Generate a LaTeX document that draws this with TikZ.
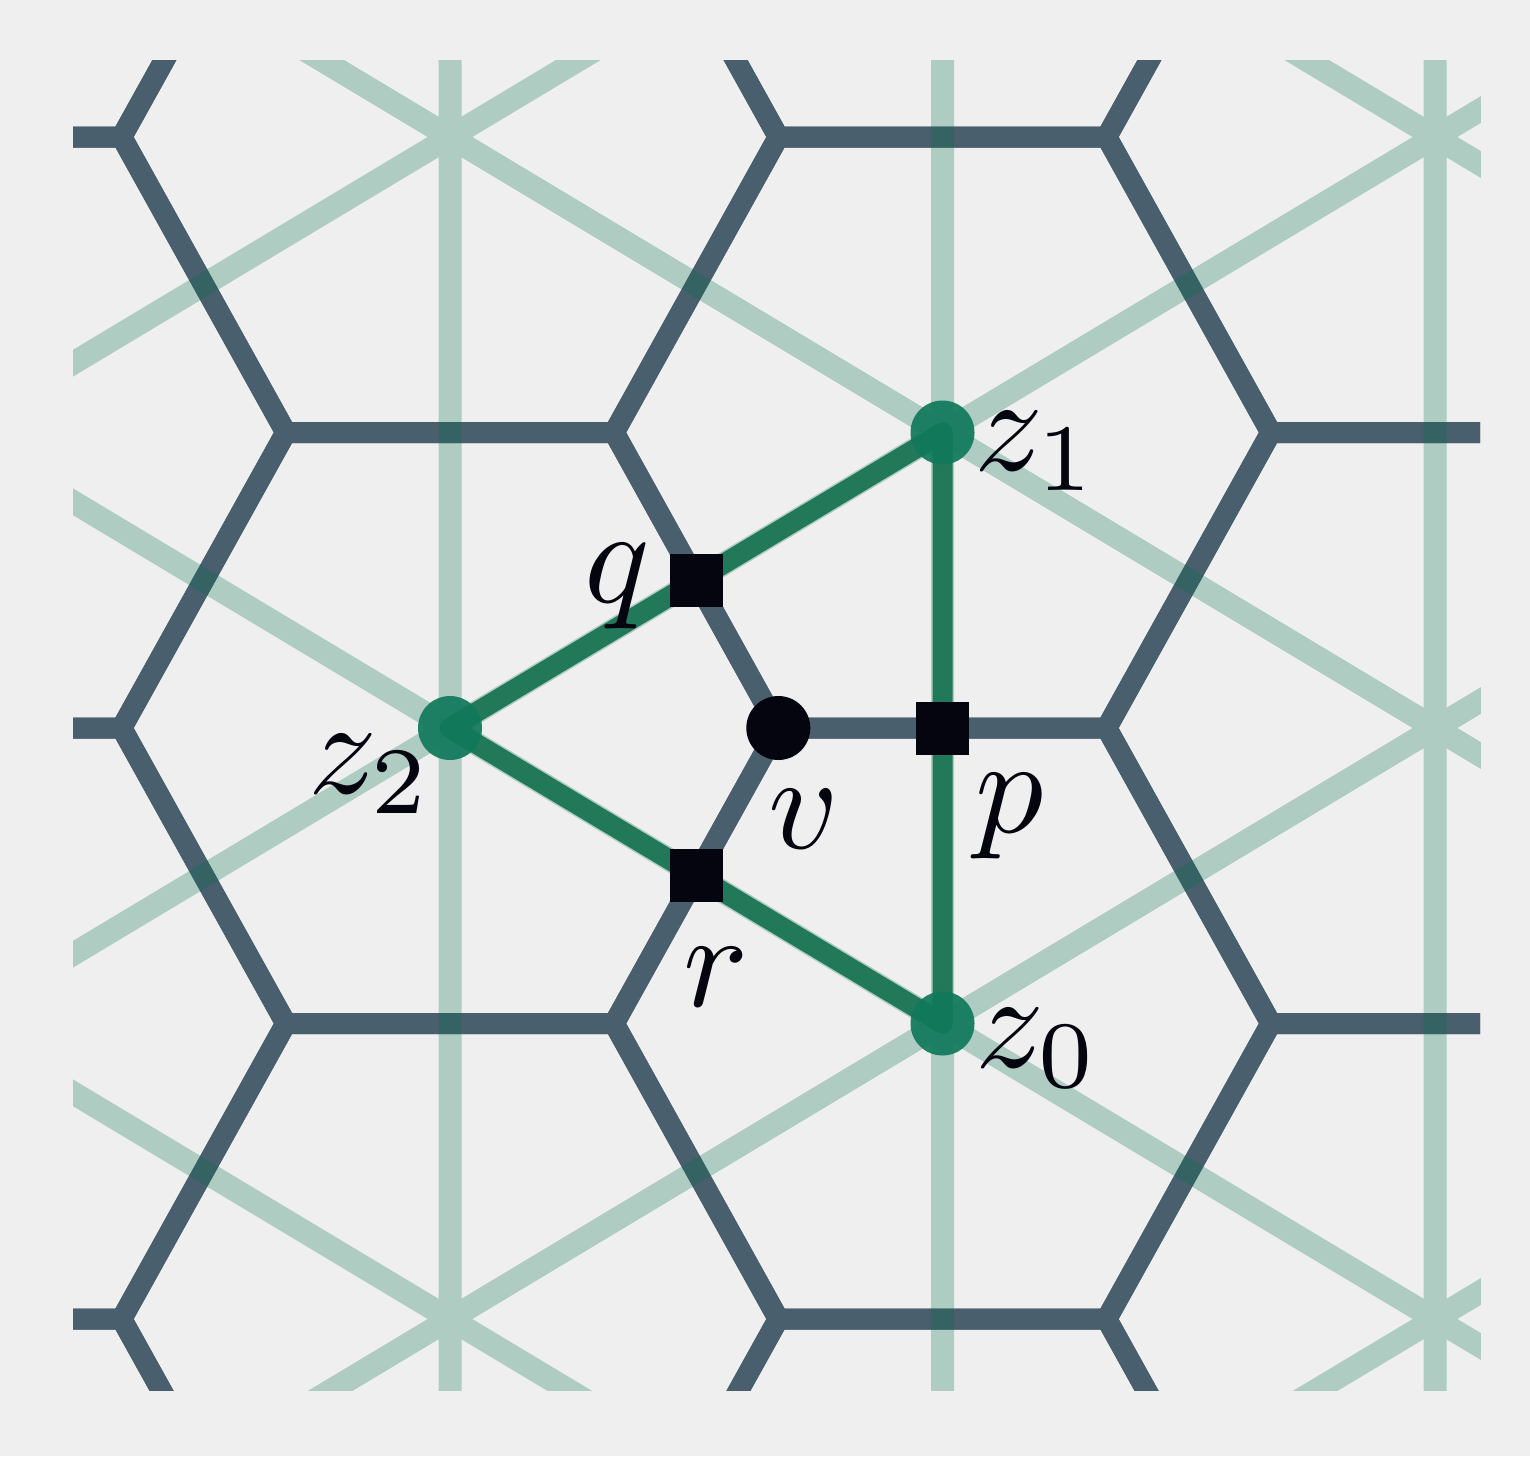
\documentclass[tikz,border=0pt]{standalone}
\definecolor{bgcol}{HTML}{EFEFEF}
\definecolor{hexcol}{HTML}{4A5F6E}
\definecolor{lattcol}{RGB}{0,110,75}
\definecolor{tricol}{HTML}{1A7555}
\definecolor{zcol}{HTML}{10785A}
\definecolor{ink}{HTML}{05050F}
\newcommand{\biglab}[1]{\scalebox{13.6}{$#1$}}
\begin{document}
\begin{tikzpicture}[x=1pt,y=-1pt,
  hexedge/.style={draw=hexcol, line width=21pt, line join=miter},
  lattline/.style={draw=lattcol, line width=23pt},
  triedge/.style={draw=tricol, line width=20pt, line join=round, draw opacity=0.95},
  zdot/.style={circle, fill=zcol, fill opacity=0.92, minimum size=64pt, inner sep=0pt},
  vdot/.style={circle, fill=ink, minimum size=64pt, inner sep=0pt},
  sqdot/.style={rectangle, fill=ink, minimum size=53pt, inner sep=0pt},
  lab/.style={anchor=base west, inner sep=0pt, text=ink, font=\fontsize{10}{12}\selectfont}]
\fill[bgcol] (0,0) rectangle (1530,1456);
\useasboundingbox (0,0) rectangle (1530,1456);
\def\A{328.33}
\def\H{295.5}
\begin{scope}
\clip (73,60) rectangle (1480,1390);
% honeycomb
\foreach \cx in {450,1435} {
  \foreach \k [evaluate=\k as \cy using 728+\H*\k] in {-4,-2,0,2,4} {
    \draw[hexedge] ({\cx+\A},{\cy}) -- ({\cx+\A/2},{\cy+\H}) -- ({\cx-\A/2},{\cy+\H})
      -- ({\cx-\A},{\cy}) -- ({\cx-\A/2},{\cy-\H}) -- ({\cx+\A/2},{\cy-\H}) -- cycle;
  }
}
\foreach \cx in {-42.5,942.5,1927.5} {
  \foreach \k [evaluate=\k as \cy using 728+\H*\k] in {-3,-1,1,3,5} {
    \draw[hexedge] ({\cx+\A},{\cy}) -- ({\cx+\A/2},{\cy+\H}) -- ({\cx-\A/2},{\cy+\H})
      -- ({\cx-\A},{\cy}) -- ({\cx-\A/2},{\cy-\H}) -- ({\cx+\A/2},{\cy-\H}) -- cycle;
  }
}
% triangular lattice
\begin{scope}[transparency group, opacity=0.27]
\foreach \x in {450,942.5,1435} {
  \draw[lattline] (\x,0) -- (\x,1456);
}
\foreach \k [evaluate=\k as \cy using 728+\H*\k] in {-8,-6,...,8} {
  \draw[lattline] ({450-1477.5},{\cy-3*\H}) -- ({450+1477.5},{\cy+3*\H});
  \draw[lattline] ({450-1477.5},{\cy+3*\H}) -- ({450+1477.5},{\cy-3*\H});
}
\end{scope}
\end{scope}
% named points
\coordinate (z1c) at (942.5,432.5);
\coordinate (z0c) at (942.5,1023.5);
\coordinate (z2c) at (450,728);
\draw[triedge] (z2c) -- (z1c) -- (z0c) -- cycle;
\node[zdot] (z1) at (z1c) {};
\node[zdot] (z0) at (z0c) {};
\node[zdot] (z2) at (z2c) {};
\node[vdot] (v) at (778.3,728) {};
\node[sqdot] (p) at (942.5,728) {};
\node[sqdot] (q) at (696.25,580.25) {};
\node[sqdot] (r) at (696.25,875.75) {};
% labels
\node[lab] (lz1) at (974,470) {\biglab{z_1}};
\node[lab] (lz0) at (975,1067) {\biglab{z_0}};
\node[lab] (lz2) at (308,793) {\biglab{z_2}};
\node[lab] (lq) at (584,602) {\biglab{q}};
\node[lab] (lv) at (768,848) {\biglab{v}};
\node[lab] (lp) at (975,832) {\biglab{p}};
\node[lab] (lr) at (683,1006) {\biglab{r}};
\end{tikzpicture}
\end{document}
